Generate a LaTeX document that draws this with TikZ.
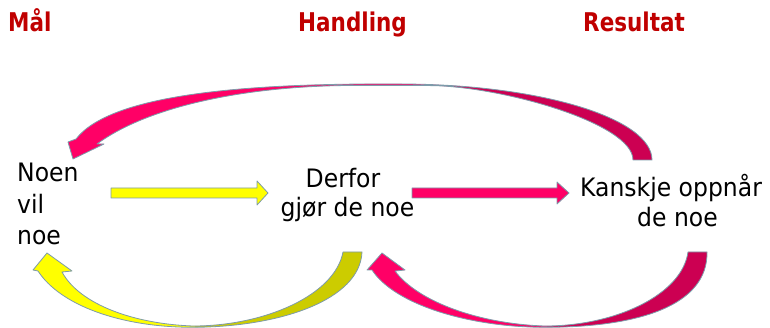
\documentclass[tikz,border=0pt]{standalone}
\usepackage{fontspec}
\setmainfont{DejaVu Sans}
\definecolor{titlered}{RGB}{192,0,0}
\definecolor{pinkA}{RGB}{255,0,102}
\definecolor{pinkB}{RGB}{204,0,82}
\definecolor{yelA}{RGB}{255,255,0}
\definecolor{yelB}{RGB}{204,204,0}
\definecolor{edgecol}{RGB}{125,155,170}
\newcommand\topArrowPath{(73,159) -- (104,144) -- (97,144) .. controls (150,105) and (250,86) .. (350,85.5) -- (430,85.6) .. controls (500,86) and (633,123) .. (633,160) -- (652,160) .. controls (652,118) and (539,84) .. (400,84) .. controls (240,83) and (110,95) .. (76,139) -- (68,142) -- cycle}
\newcommand\yelArrowPath{(47,253) -- (72,271) -- (62,272) .. controls (80,305) and (135,324) .. (193,326) .. controls (265,326) and (335,295) .. (343,252) -- (362,252) .. controls (360,300) and (280,327) .. (193,327.3) .. controls (120,327.3) and (60,305) .. (38,271) -- (33,270) -- cycle}
\newcommand\pinkArrowPath{(382,253) -- (405,270) -- (395,271) .. controls (418,302) and (480,324) .. (545,326) .. controls (615,326) and (682,295) .. (688,252) -- (707,252) .. controls (708,305) and (640,327.3) .. (545,327.3) .. controls (470,327.3) and (395,305) .. (372,270) -- (367,270) -- cycle}
\newcommand\tallText[1]{\scalebox{1}[1.2]{#1}}
\tikzset{
  edge/.style={draw=edgecol, line width=0.8pt, line join=round},
  title/.style={text=titlered, font=\fontsize{21.5}{26}\selectfont\bfseries, inner sep=0pt, anchor=base west},
  body/.style={text=black, font=\fontsize{23.5}{29}\selectfont, inner sep=0pt, anchor=base}
}
\begin{document}
\begin{tikzpicture}[x=1pt,y=-1pt]
\useasboundingbox (0,0) rectangle (770,328);
% titles
\node[title] (mal) at (8,32) {\tallText{Mål}};
\node[title] (handling) at (298,32) {\tallText{Handling}};
\node[title] (resultat) at (583,32) {\tallText{Resultat}};
% texts
\node[body, anchor=base west] (noen) at (17,182) {\scalebox{1}[1.08]{Noen}};
\node[body, anchor=base west] (vil) at (17,214) {\scalebox{1}[1.08]{vil}};
\node[body, anchor=base west] (noe) at (17,245) {\scalebox{1}[1.08]{noe}};
\node[body] (derfor) at (343,188) {\scalebox{1}[1.08]{Derfor}};
\node[body] (gjor) at (347.5,217) {\scalebox{1}[1.08]{gjør de noe}};
\node[body] (kanskje) at (671,197) {\scalebox{1}[1.08]{Kanskje oppnår}};
\node[body] (denoe) at (677.5,227) {\scalebox{1}[1.08]{de noe}};
% straight block arrows
\draw[edge, fill=yelA] (111,188) -- (257,188) -- (257,181) -- (268,193) -- (257,205) -- (257,198) -- (111,198) -- cycle;
\draw[edge, fill=pinkA] (412,188) -- (557,188) -- (557,182) -- (569,193) -- (557,204) -- (557,198) -- (412,198) -- cycle;
% top curved arrow
\begin{scope}
  \clip \topArrowPath;
  \fill[pinkA] (0,0) rectangle (450,328);
  \fill[pinkB] (450,0) rectangle (770,328);
\end{scope}
\draw[edge] \topArrowPath;
% bottom yellow curved arrow
\begin{scope}
  \clip \yelArrowPath;
  \fill[yelA] (0,0) rectangle (195,328);
  \fill[yelB] (195,0) rectangle (770,328);
\end{scope}
\draw[edge] \yelArrowPath;
% bottom pink curved arrow
\begin{scope}
  \clip \pinkArrowPath;
  \fill[pinkA] (0,0) rectangle (547,328);
  \fill[pinkB] (547,0) rectangle (770,328);
\end{scope}
\draw[edge] \pinkArrowPath;
\end{tikzpicture}
\end{document}
